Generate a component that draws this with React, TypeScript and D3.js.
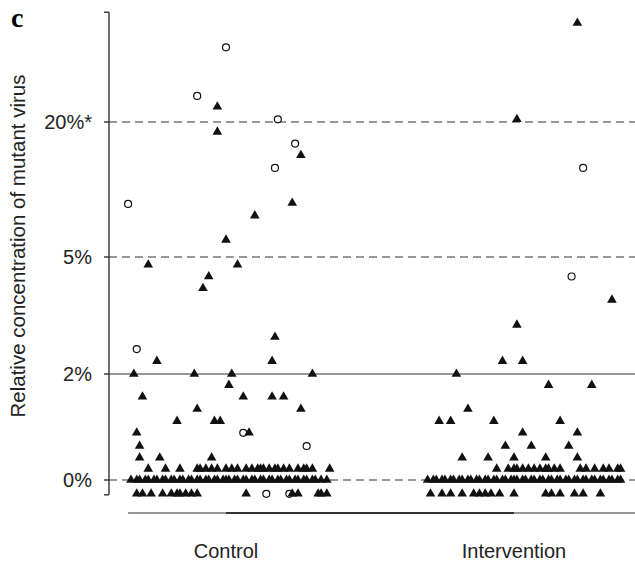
import React from "react";
import * as d3 from "d3";

// categories on the x axis
const categories = ["Control", "Intervention"];

// y axis ticks (percent of mutant virus) and labels
const yTicks = [0, 2, 5, 20];
const yTickLabels = ["0%", "2%", "5%", "20%*"];
const solidTicks = [2];
const yAxisMin = -0.28;
const yAxisMax = 32.2;

// points: [jitter within group, relative concentration %]
const controlTriangles: [number, number][] = [
  [-3, 21.7], [-3, 18.9], [26, 16.3], [23, 11.0], [10, 9.6], [0, 6.9],
  [-27, 4.8], [4, 4.8], [-6, 4.5], [-8, 4.2], [17, 2.95], [-24, 2.33],
  [16, 2.33], [-32, 2.0], [-11, 2.0], [2, 2.0], [30, 2.0], [1, 1.79],
  [-29, 1.57], [6, 1.57], [16, 1.57], [20, 1.57], [-10, 1.34], [26, 1.34],
  [-17, 1.11], [-4, 1.11], [-2, 1.11], [-31, 0.89], [8, 0.89], [-30, 0.64],
  [-30, 0.42], [-23, 0.42], [-5, 0.42],
  [-27, 0.21], [-21, 0.21], [-16, 0.21], [-10, 0.21], [-9, 0.21], [-7, 0.21],
  [-5, 0.21], [-3, 0.21], [0, 0.21], [2, 0.21], [4, 0.21], [7, 0.21],
  [9, 0.21], [11, 0.21], [12, 0.21], [13, 0.21], [15, 0.21], [17, 0.21],
  [18, 0.21], [20, 0.21], [22, 0.21], [25, 0.21], [27, 0.21], [28, 0.21],
  [30, 0.21], [36, 0.21],
  [-33, 0], [-31, 0], [-30, 0], [-28, 0], [-27, 0], [-25, 0], [-24, 0],
  [-22, 0], [-21, 0], [-19, 0], [-18, 0], [-16, 0], [-15, 0], [-13, 0],
  [-12, 0], [-10, 0], [-9, 0], [-7, 0], [-6, 0], [-4, 0], [-3, 0], [-1, 0],
  [0, 0], [1, 0], [3, 0], [4, 0], [6, 0], [7, 0], [9, 0], [10, 0], [12, 0],
  [13, 0], [15, 0], [16, 0], [18, 0], [19, 0], [21, 0], [22, 0], [24, 0],
  [25, 0], [27, 0], [28, 0], [30, 0], [31, 0], [33, 0], [35, 0],
  [-31, -0.26], [-29, -0.26], [-26, -0.26], [-22, -0.26], [-19, -0.26],
  [-17, -0.26], [-16, -0.26], [-14, -0.26], [-12, -0.26], [-10, -0.26],
  [7, -0.26], [23, -0.26], [25, -0.26], [32, -0.26], [33, -0.26], [35, -0.26],
];

const controlCircles: [number, number][] = [
  [0, 28.3], [-10, 22.9], [18, 20.3], [24, 17.6], [17, 14.9], [-34, 10.9],
  [-31, 2.64], [6, 0.89], [28, 0.64], [14, -0.26], [22, -0.26],
];

const interventionTriangles: [number, number][] = [
  [22, 31.0], [1, 20.3], [34, 3.9], [1, 3.26], [-4, 2.33], [3, 2.33],
  [-20, 2.0], [12, 1.79], [27, 1.79], [-16, 1.34], [-26, 1.11], [-22, 1.11],
  [-7, 1.11], [16, 1.11], [3, 0.89], [22, 0.89], [-3, 0.64], [6, 0.64],
  [19, 0.64], [-18, 0.42], [-9, 0.42], [0, 0.42], [11, 0.42], [22, 0.42],
  [-6, 0.21], [-2, 0.21], [0, 0.21], [1, 0.21], [3, 0.21], [5, 0.21],
  [7, 0.21], [9, 0.21], [11, 0.21], [12, 0.21], [14, 0.21], [16, 0.21],
  [23, 0.21], [25, 0.21], [28, 0.21], [31, 0.21], [33, 0.21], [36, 0.21],
  [37, 0.21],
  [-30, 0], [-28, 0], [-27, 0], [-25, 0], [-24, 0], [-22, 0], [-21, 0],
  [-19, 0], [-18, 0], [-16, 0], [-15, 0], [-13, 0], [-12, 0], [-10, 0],
  [-9, 0], [-7, 0], [-6, 0], [-4, 0], [-3, 0], [-1, 0], [0, 0], [1, 0],
  [3, 0], [4, 0], [6, 0], [7, 0], [9, 0], [10, 0], [12, 0], [13, 0],
  [15, 0], [16, 0], [18, 0], [19, 0], [21, 0], [22, 0], [24, 0], [25, 0],
  [27, 0], [28, 0], [30, 0], [31, 0], [33, 0], [34, 0], [36, 0], [37, 0],
  [-29, -0.26], [-25, -0.26], [-22, -0.26], [-18, -0.26], [-14, -0.26],
  [-12, -0.26], [-10, -0.26], [-8, -0.26], [-5, -0.26], [0, -0.26],
  [11, -0.26], [13, -0.26], [16, -0.26], [21, -0.26], [24, -0.26], [30, -0.26],
];

const interventionCircles: [number, number][] = [
  [24, 14.9], [20, 4.5],
];

const groups = [
  { triangles: controlTriangles, circles: controlCircles },
  { triangles: interventionTriangles, circles: interventionCircles },
];

const font = "'Liberation Sans', Arial, Helvetica, sans-serif";

export default function App() {
  const width = 635,
    height = 569,
    plotLeft = 109,
    plotRight = 635;

  // custom broken scale: each band between ticks has its own spacing
  const y = d3.scaleLinear().domain([0, 2, 5, 20]).range([480, 374, 257, 122]);
  // groups at 0 and 100, jitter in the same units
  const x = d3.scaleLinear().domain([0, 100]).range([226, 514]);

  const tri = d3.symbol(d3.symbolTriangle, 40)() as string;

  return (
    <svg
      width={width}
      height={height}
      style={{ position: "absolute", left: 0, top: 0, background: "#fff" }}
      fontFamily={font}
    >
      <text x={11} y={27} fontFamily="'Liberation Serif', 'Times New Roman', serif" fontWeight="bold" fontSize={28}>
        c
      </text>

      {/* reference lines */}
      {yTicks.map((t) => (
        <line
          key={t}
          x1={plotLeft}
          x2={plotRight}
          y1={y(t)}
          y2={y(t)}
          stroke="#333"
          strokeWidth={1.2}
          strokeDasharray={solidTicks.includes(t) ? undefined : "8,5"}
        />
      ))}

      {/* y axis */}
      <line x1={plotLeft} x2={plotLeft} y1={y(yAxisMax)} y2={y(yAxisMin)} stroke="#222" strokeWidth={1.3} />
      {[yAxisMax, ...yTicks, yAxisMin].map((t, i) => (
        <line key={i} x1={plotLeft - 5} x2={plotLeft} y1={y(t)} y2={y(t)} stroke="#222" strokeWidth={1.3} />
      ))}
      {yTicks.map((t, i) => (
        <text key={t} x={92} y={y(t)} dy="0.36em" textAnchor="end" fontSize={20} fill="#222">
          {yTickLabels[i]}
        </text>
      ))}
      <text
        transform={`translate(25,${246}) rotate(-90)`}
        textAnchor="middle"
        fontSize={20.5}
        fill="#222"
      >
        Relative concentration of mutant virus
      </text>

      {/* x baseline */}
      <line x1={x(-34)} x2={plotRight} y1={513} y2={513} stroke="#777" strokeWidth={1.6} />
      <line x1={x(0)} x2={x(100)} y1={513} y2={513} stroke="#111" strokeWidth={1.6} />
      {categories.map((c, i) => (
        <text key={c} x={x(i * 100)} y={558} textAnchor="middle" fontSize={20} fill="#222">
          {c}
        </text>
      ))}

      {/* points */}
      {groups.map((g, gi) => (
        <g key={gi}>
          {g.circles.map(([j, v], i) => (
            <circle
              key={"c" + i}
              cx={x(gi * 100 + j)}
              cy={y(v)}
              r={3.5}
              fill="#fff"
              stroke="#111"
              strokeWidth={1.2}
            />
          ))}
          {g.triangles.map(([j, v], i) => (
            <path key={"t" + i} d={tri} transform={`translate(${x(gi * 100 + j)},${y(v)})`} fill="#111" />
          ))}
        </g>
      ))}
    </svg>
  );
}
